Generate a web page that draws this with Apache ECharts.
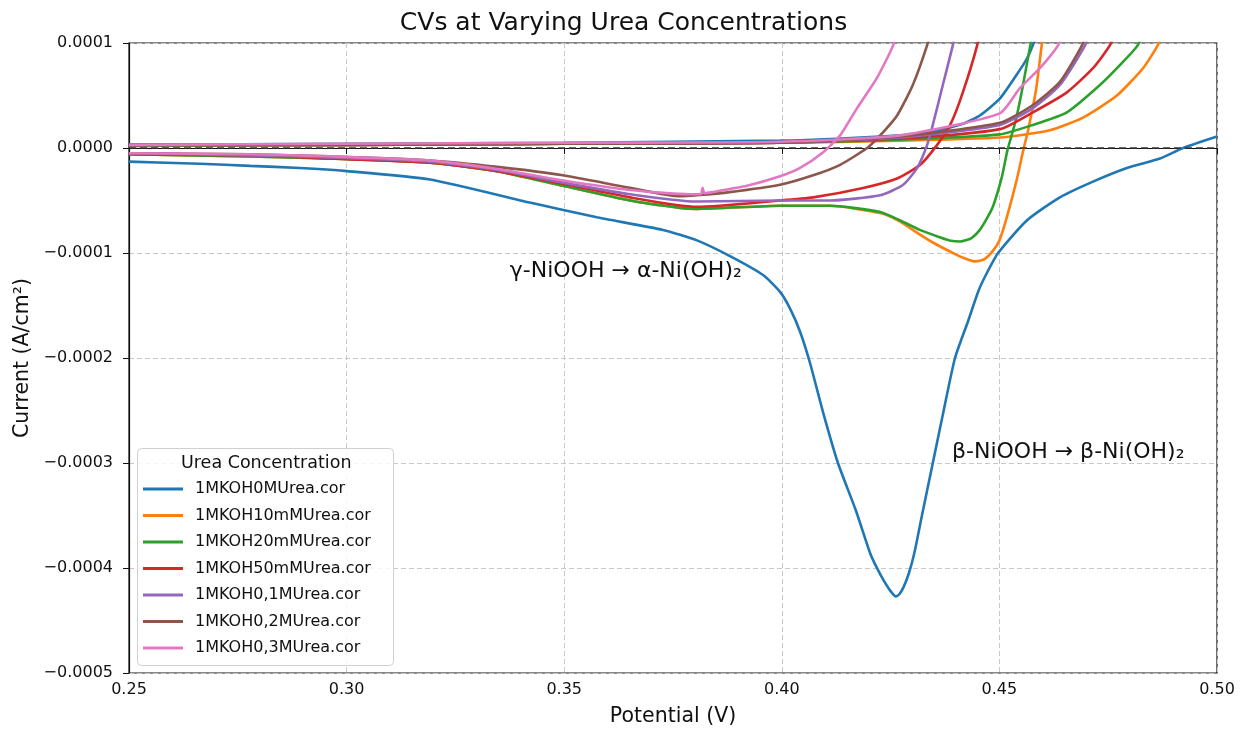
<!DOCTYPE html>
<html>
<head>
<meta charset="utf-8">
<script src="https://cdn.jsdelivr.net/npm/echarts@6/dist/echarts.min.js"></script>
<style>
  html, body { margin: 0; padding: 0; background: #fff; }
  #main { width: 1247px; height: 734px; }
</style>
</head>
<body>
<div id="main"></div>
<script>
// potential (V), current (A/cm2)
// each CV split in forward (anodic) and reverse (cathodic) branch

var names = ['1MKOH0MUrea.cor', '1MKOH10mMUrea.cor', '1MKOH20mMUrea.cor', '1MKOH50mMUrea.cor',
             '1MKOH0,1MUrea.cor', '1MKOH0,2MUrea.cor', '1MKOH0,3MUrea.cor'];
var colors = ['#1f77b4', '#ff7f0e', '#2ca02c', '#d62728', '#9467bd', '#8c564b', '#e377c2'];

var xTicks = [0.25, 0.30, 0.35, 0.40, 0.45, 0.50];
var yTicks = [-0.0005, -0.0004, -0.0003, -0.0002, -0.0001, 0, 0.0001];

var fwd0M = [[0.25, 0.03e-4], [0.30, 0.04e-4], [0.35, 0.05e-4], [0.3996, 0.07e-4], [0.4226, 0.11e-4],
  [0.4341, 0.15e-4], [0.4416, 0.23e-4], [0.4455, 0.31e-4], [0.4501, 0.47e-4], [0.4540, 0.70e-4],
  [0.4563, 0.85e-4], [0.4577, 0.98e-4], [0.4595, 1.2e-4]];
var rev0M = [[0.500, 0.11e-4], [0.4922, 0.0], [0.4869, -0.10e-4], [0.4793, -0.19e-4], [0.4715, -0.32e-4],
  [0.4639, -0.47e-4], [0.4563, -0.69e-4], [0.4497, -1.0e-4], [0.4470, -1.2e-4], [0.4452, -1.36e-4],
  [0.4428, -1.65e-4], [0.4398, -2.0e-4], [0.4372, -2.5e-4], [0.4347, -3.0e-4], [0.4322, -3.5e-4],
  [0.4305, -3.85e-4], [0.4292, -4.05e-4], [0.4280, -4.18e-4], [0.4270, -4.25e-4], [0.4262, -4.27e-4],
  [0.4250, -4.22e-4], [0.4233, -4.11e-4], [0.4215, -3.97e-4], [0.4203, -3.86e-4], [0.4170, -3.45e-4],
  [0.4129, -3.0e-4], [0.4095, -2.52e-4], [0.4065, -2.05e-4], [0.4042, -1.75e-4], [0.4019, -1.53e-4],
  [0.3996, -1.37e-4], [0.3957, -1.21e-4], [0.3881, -1.03e-4], [0.3805, -0.88e-4], [0.3727, -0.78e-4],
  [0.3575, -0.66e-4], [0.3421, -0.52e-4], [0.3192, -0.30e-4], [0.3001, -0.22e-4], [0.2893, -0.19e-4],
  [0.2778, -0.17e-4], [0.2663, -0.15e-4], [0.250, -0.13e-4]];

var fwd10mM = [[0.25, 0.02e-4], [0.30, 0.03e-4], [0.35, 0.04e-4], [0.3996, 0.05e-4], [0.4272, 0.07e-4],
  [0.4501, 0.10e-4], [0.4616, 0.17e-4], [0.4692, 0.29e-4], [0.4770, 0.50e-4], [0.4830, 0.76e-4],
  [0.4864, 0.98e-4], [0.4885, 1.2e-4]];
var rev10mM = [[0.4607, 1.2e-4], [0.4598, 1.0e-4], [0.4584, 0.55e-4], [0.4566, 0.17e-4], [0.4556, 0.0],
  [0.4540, -0.30e-4], [0.4517, -0.66e-4], [0.4500, -0.88e-4], [0.4485, -0.98e-4], [0.4465, -1.06e-4],
  [0.4444, -1.08e-4], [0.4420, -1.05e-4], [0.4403, -1.02e-4], [0.4347, -0.90e-4], [0.4301, -0.78e-4],
  [0.4272, -0.70e-4], [0.4226, -0.62e-4], [0.4111, -0.55e-4], [0.3996, -0.55e-4], [0.3805, -0.58e-4],
  [0.3766, -0.57e-4], [0.3651, -0.50e-4], [0.3497, -0.36e-4], [0.3346, -0.22e-4], [0.3192, -0.14e-4],
  [0.2962, -0.10e-4], [0.2778, -0.08e-4], [0.25, -0.06e-4]];

var fwd20mM = [[0.25, 0.02e-4], [0.30, 0.03e-4], [0.35, 0.04e-4], [0.3996, 0.05e-4], [0.4272, 0.08e-4],
  [0.4501, 0.13e-4], [0.4577, 0.22e-4], [0.4655, 0.34e-4], [0.4731, 0.60e-4], [0.4784, 0.82e-4],
  [0.4818, 0.98e-4], [0.4838, 1.2e-4]];
var rev20mM = [[0.4582, 1.2e-4], [0.4572, 1.0e-4], [0.4552, 0.55e-4], [0.4538, 0.27e-4], [0.4528, 0.12e-4],
  [0.4518, -0.03e-4], [0.4506, -0.27e-4], [0.4485, -0.56e-4], [0.4470, -0.68e-4], [0.4455, -0.78e-4],
  [0.4435, -0.86e-4], [0.4410, -0.89e-4], [0.4385, -0.88e-4], [0.4363, -0.85e-4], [0.4317, -0.78e-4],
  [0.4272, -0.69e-4], [0.4226, -0.61e-4], [0.4111, -0.55e-4], [0.3996, -0.55e-4], [0.3805, -0.58e-4],
  [0.3766, -0.57e-4], [0.3651, -0.50e-4], [0.3497, -0.36e-4], [0.3346, -0.22e-4], [0.3192, -0.14e-4],
  [0.2962, -0.10e-4], [0.2778, -0.08e-4], [0.25, -0.06e-4]];

var fwd50mM = [[0.25, 0.03e-4], [0.30, 0.03e-4], [0.35, 0.04e-4], [0.3996, 0.05e-4], [0.4272, 0.09e-4],
  [0.4501, 0.18e-4], [0.4577, 0.34e-4], [0.4655, 0.53e-4], [0.4715, 0.76e-4], [0.4754, 0.98e-4],
  [0.4775, 1.2e-4]];
var rev50mM = [[0.4458, 1.2e-4], [0.4449, 0.98e-4], [0.4416, 0.53e-4], [0.4387, 0.22e-4], [0.4357, 0.03e-4],
  [0.4318, -0.16e-4], [0.4265, -0.29e-4], [0.4187, -0.38e-4], [0.4072, -0.47e-4], [0.3996, -0.50e-4],
  [0.3805, -0.56e-4], [0.3651, -0.47e-4], [0.3497, -0.34e-4], [0.3346, -0.22e-4], [0.3192, -0.14e-4],
  [0.2962, -0.10e-4], [0.2778, -0.07e-4], [0.25, -0.06e-4]];

var fwd01M = [[0.25, 0.03e-4], [0.30, 0.03e-4], [0.35, 0.04e-4], [0.3996, 0.05e-4], [0.4272, 0.10e-4],
  [0.4501, 0.22e-4], [0.4577, 0.38e-4], [0.4639, 0.60e-4], [0.4697, 0.98e-4], [0.4715, 1.2e-4]];
var rev01M = [[0.4403, 1.2e-4], [0.4393, 0.98e-4], [0.4370, 0.60e-4], [0.4347, 0.22e-4], [0.4334, 0.03e-4],
  [0.4311, -0.19e-4], [0.4279, -0.35e-4], [0.4226, -0.45e-4], [0.4111, -0.50e-4], [0.3996, -0.50e-4],
  [0.3805, -0.51e-4], [0.3651, -0.44e-4], [0.3497, -0.33e-4], [0.3346, -0.21e-4], [0.3192, -0.13e-4],
  [0.2962, -0.09e-4], [0.2778, -0.07e-4], [0.25, -0.05e-4]];

var fwd02M = [[0.25, 0.03e-4], [0.30, 0.03e-4], [0.35, 0.04e-4], [0.3996, 0.05e-4], [0.4272, 0.11e-4],
  [0.4501, 0.24e-4], [0.4577, 0.41e-4], [0.4639, 0.63e-4], [0.4690, 0.98e-4], [0.4708, 1.2e-4]];
var rev02M = [[0.4348, 1.2e-4], [0.4334, 0.98e-4], [0.4301, 0.60e-4], [0.4265, 0.31e-4], [0.4226, 0.12e-4],
  [0.4196, 0.0], [0.4134, -0.16e-4], [0.4072, -0.26e-4], [0.3996, -0.35e-4], [0.3880, -0.42e-4],
  [0.3805, -0.45e-4], [0.3766, -0.46e-4], [0.3651, -0.38e-4], [0.3497, -0.26e-4], [0.3346, -0.18e-4],
  [0.3192, -0.12e-4], [0.2962, -0.08e-4], [0.2778, -0.06e-4], [0.25, -0.05e-4]];

var fwd03M = [[0.25, 0.03e-4], [0.30, 0.04e-4], [0.35, 0.05e-4], [0.3996, 0.06e-4], [0.4272, 0.12e-4],
  [0.4501, 0.33e-4], [0.4547, 0.57e-4], [0.4593, 0.76e-4], [0.4635, 0.98e-4], [0.4655, 1.2e-4]];
var rev03M = [[0.4268, 1.2e-4], [0.4256, 0.98e-4], [0.4219, 0.67e-4], [0.4173, 0.38e-4], [0.4134, 0.12e-4],
  [0.4095, -0.04e-4], [0.4042, -0.19e-4], [0.3996, -0.27e-4], [0.3920, -0.36e-4], [0.3840, -0.42e-4],
  [0.3822, -0.43e-4], [0.3818, -0.38e-4], [0.3814, -0.44e-4], [0.3789, -0.44e-4], [0.3651, -0.40e-4],
  [0.3497, -0.31e-4], [0.3346, -0.20e-4], [0.3192, -0.12e-4], [0.2962, -0.08e-4], [0.2778, -0.06e-4],
  [0.25, -0.05e-4]];

var branches = [[fwd0M, rev0M], [fwd10mM, rev10mM], [fwd20mM, rev20mM], [fwd50mM, rev50mM],
                [fwd01M, rev01M], [fwd02M, rev02M], [fwd03M, rev03M]];

var annotations = [
  { coord: [0.3375, -1.17e-4], text: 'γ-NiOOH → α-Ni(OH)₂' },
  { coord: [0.4391, -2.90e-4], text: 'β-NiOOH → β-Ni(OH)₂' }
];

function fmtY(v) {
    if (Math.abs(v) < 1e-12) return '0.0000';
    return v.toFixed(4).replace('-', '\u2212');
}

var series = [];
for (var i = 0; i < names.length; i++) {
    for (var k = 0; k < 2; k++) {
        series.push({
            name: names[i],
            type: 'line',
            data: branches[i][k],
            symbol: 'none',
            smooth: 0.2,
            clip: true,
            color: colors[i],
            lineStyle: { width: 2.6, color: colors[i] },
            z: 2 + i
        });
    }
}

// zero reference line + peak annotations
series.push({
    type: 'line',
    data: [],
    silent: true,
    z: 20,
    markLine: {
        silent: true,
        symbol: ['none', 'none'],
        label: { show: false },
        lineStyle: { type: [7, 4], color: '#333', width: 1.7 },
        data: [{ yAxis: 0 }]
    },
    markPoint: {
        silent: true,
        symbol: 'circle',
        symbolSize: 0,
        label: {
            show: true,
            position: 'right',
            distance: 0,
            color: '#111',
            fontSize: 22,
            fontFamily: 'DejaVu Sans',
            formatter: function (p) { return p.name; }
        },
        data: annotations.map(function (a) { return { name: a.text, coord: a.coord }; })
    }
});

var option = {
    backgroundColor: '#fff',
    animation: false,
    title: {
        text: 'CVs at Varying Urea Concentrations',
        left: 'center',
        top: 6,
        textStyle: { fontSize: 25, fontWeight: 'normal', color: '#111', fontFamily: 'DejaVu Sans' }
    },
    grid: {
        left: 129, right: 30, top: 43, bottom: 61,
        show: true, borderColor: '#111', borderWidth: 1.2
    },
    legend: {
        data: names,
        orient: 'vertical',
        left: 143,
        top: 481,
        padding: 0,
        icon: 'rect',
        itemWidth: 40,
        itemHeight: 3,
        itemGap: 10.5,
        textStyle: { fontSize: 16, color: '#111', fontFamily: 'DejaVu Sans', padding: [0, 0, 0, 7], lineHeight: 16 },
        selectedMode: false,
        z: 40
    },
    xAxis: {
        type: 'value',
        min: xTicks[0],
        max: xTicks[xTicks.length - 1],
        interval: 0.05,
        name: 'Potential (V)',
        nameLocation: 'middle',
        nameGap: 33,
        nameTextStyle: { fontSize: 20.5, color: '#111', fontFamily: 'DejaVu Sans' },
        axisLine: { lineStyle: { color: '#111', width: 1.2 } },
        axisTick: { show: true, inside: false, length: 6, lineStyle: { color: '#111' } },
        axisLabel: { fontSize: 16, color: '#111', fontFamily: 'DejaVu Sans', margin: 9,
                     formatter: function (v) { return v.toFixed(2); } },
        splitLine: { show: true, lineStyle: { type: [5, 3], color: '#c8c8c8', width: 1 } }
    },
    yAxis: {
        type: 'value',
        min: yTicks[0],
        max: yTicks[yTicks.length - 1],
        interval: 0.0001,
        name: 'Current (A/cm²)',
        nameLocation: 'middle',
        nameGap: 96,
        nameTextStyle: { fontSize: 20.5, color: '#111', fontFamily: 'DejaVu Sans' },
        axisLine: { show: true, lineStyle: { color: '#111', width: 1.2 } },
        axisTick: { show: true, inside: false, length: 6, lineStyle: { color: '#111' } },
        axisLabel: { fontSize: 16, color: '#111', fontFamily: 'DejaVu Sans', margin: 16, formatter: fmtY },
        splitLine: { show: true, lineStyle: { type: [5, 3], color: '#c8c8c8', width: 1 } }
    },
    graphic: [
        {
            type: 'rect',
            left: 137, top: 448,
            shape: { width: 256, height: 217, r: 4 },
            style: { fill: 'rgba(255,255,255,0.85)', stroke: '#d0d0d0', lineWidth: 1 },
            z: 30
        },
        {
            type: 'text',
            left: 181, top: 454,
            style: { text: 'Urea Concentration', fontSize: 17.5, fill: '#111', fontFamily: 'DejaVu Sans' },
            z: 41
        }
    ],
    series: series
};

var myChart = echarts.init(document.getElementById('main'));
myChart.setOption(option);
</script>
</body>
</html>
